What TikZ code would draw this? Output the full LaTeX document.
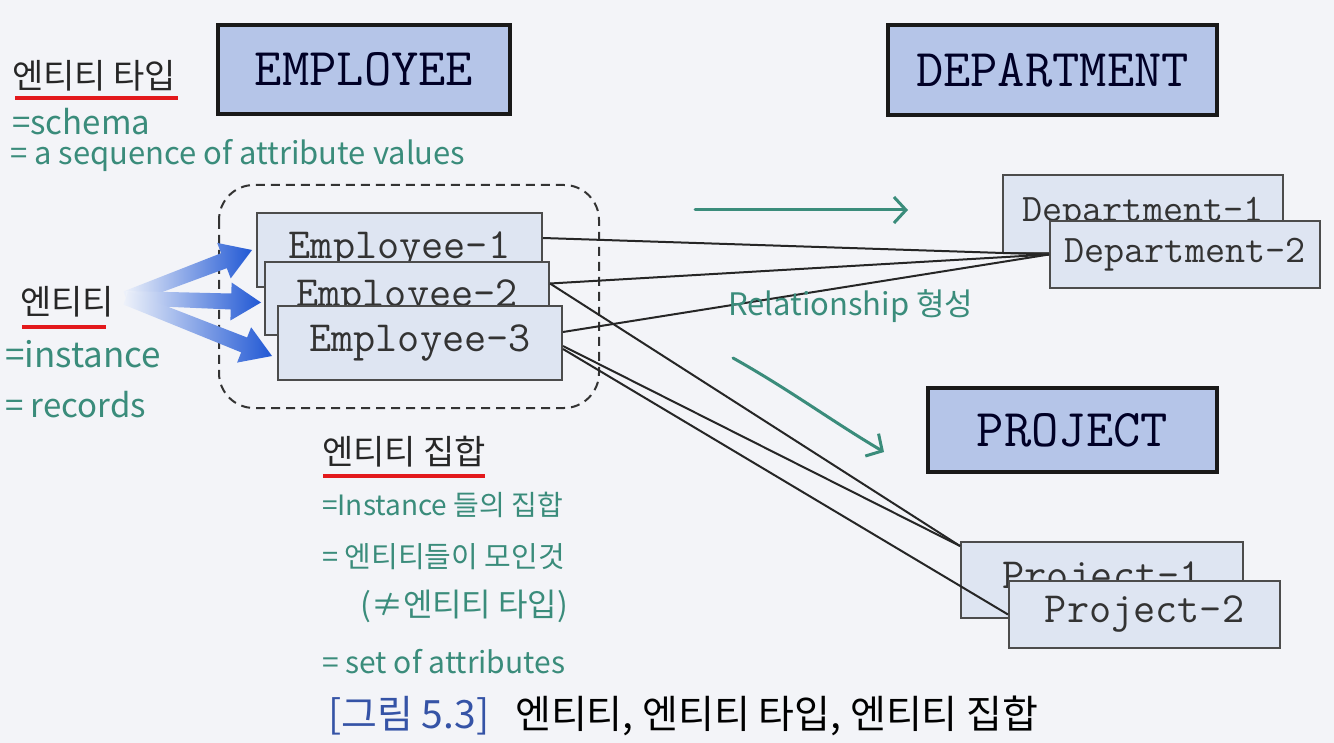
\documentclass[tikz,border=0pt]{standalone}
\usepackage{fontspec}
\newfontfamily\kr{Noto Sans CJK KR}
\usetikzlibrary{calc,arrows.meta}
\definecolor{bg}{HTML}{F3F4F8}
\definecolor{typefill}{HTML}{B5C5E8}
\definecolor{entfill}{HTML}{DEE5F2}
\definecolor{handc}{HTML}{3A8C7B}
\definecolor{ulinec}{HTML}{E3191C}
\definecolor{capblue}{HTML}{3553A6}
\definecolor{arrhead}{HTML}{2158D4}
\definecolor{arrtail}{HTML}{EEF2FA}
\newcommand\fatarrow[2]{%
  \coordinate (fab) at ($(#2)!30pt!(#1)$);
  \shade[left color=arrtail, right color=arrhead]
    ($(#1)!7pt!90:(#2)$) -- ($(fab)!8pt!-90:(#1)$) -- ($(fab)!19pt!-90:(#1)$) -- (#2)
    -- ($(fab)!19pt!90:(#1)$) -- ($(fab)!8pt!90:(#1)$) -- ($(#1)!7pt!-90:(#2)$) -- cycle;
}
\begin{document}
\begin{tikzpicture}[x=1pt,y=-1pt,
  typebox/.style={draw=black!90, line width=3.5pt, fill=typefill, inner sep=0pt,
    font=\fontsize{53}{60}\ttfamily, text=black!85!blue},
  entbox/.style={draw=black!70, line width=2pt, fill=entfill, inner sep=0pt,
    font=\fontsize{43}{50}\ttfamily, text=black!80},
  deptbox/.style={entbox, font=\fontsize{39}{46}\ttfamily},
  conn/.style={draw=black!85, line width=2pt},
  hand/.style={text=handc, anchor=west, inner sep=0pt},
  klabel/.style={anchor=west, inner sep=0pt, font=\kr\fontsize{34}{40}\selectfont, text=black!85},
  uline/.style={draw=ulinec, line width=4pt},
  garrow/.style={draw=handc, line width=3pt, line cap=round, -{Straight Barb[length=12pt,width=26pt]}},
]
\useasboundingbox (0,0) rectangle (1334,743);
\fill[bg] (0,0) rectangle (1334,743);

% entity set frame
\draw[black!80, line width=2pt, dash pattern=on 9pt off 6pt, rounded corners=35pt]
  (219,185) rectangle (599,408);

% entity types
\node[typebox, minimum width=292pt, minimum height=89pt] (EMP) at (364,69.5) {EMPLOYEE};
\node[typebox, minimum width=329pt, minimum height=90pt] (DEPT) at (1052.5,70) {DEPARTMENT};
\node[typebox, minimum width=289pt, minimum height=84pt] (PROJ) at (1072.5,430) {PROJECT};

% entities
\node[entbox, minimum width=285pt, minimum height=74pt] (e1) at (399.5,250) {Employee-1};
\node[entbox, minimum width=284pt, minimum height=73pt] (e2) at (407,298.5) {Employee-2};
\node[entbox, minimum width=284pt, minimum height=74pt] (e3) at (420,343) {Employee-3};
\node[deptbox, minimum width=280pt, minimum height=78pt] (d1) at (1143,214) {Department-1};
\node[deptbox, minimum width=270pt, minimum height=67pt] (d2) at (1185,254.5) {Department-2};
\node[entbox, minimum width=282pt, minimum height=76pt] (p1) at (1102,580) {Project-1};
\node[entbox, minimum width=271pt, minimum height=67pt] (p2) at (1144.5,614.5) {Project-2};

% relationships
\draw[conn] ([yshift=12pt]e1.east) -- (d2.west);
\draw[conn] ([yshift=15pt]e2.east) -- (d2.west);
\draw[conn] ([yshift=11pt]e3.east) -- (d2.west);
\draw[conn] ([yshift=15pt]e2.east) -- ([yshift=-5pt]p1.north west);
\draw[conn] ([yshift=-3pt]e3.east) -- ([yshift=-5pt]p1.north west);
\draw[conn] ([yshift=-6pt]e3.east) -- (p2.west);

% labels
\node[klabel] (lt) at (12,76) {엔티티 타입};
\draw[uline] (15,98) -- (178,98);
\node[klabel] (le) at (20,302) {엔티티};
\draw[uline] (22,327) -- (106,327);
\node[klabel] (ls) at (322,452) {엔티티 집합};
\draw[uline] (323,476) -- (485,476);

% fat blue arrows
\coordinate (src) at (126,298);
\fatarrow{src}{[xshift=-4pt]e1.west}
\fatarrow{src}{[xshift=-3pt,yshift=-4pt]e2.west}
\fatarrow{src}{[xshift=-5pt,yshift=-13pt]e3.west}

% handwritten notes
\node[hand, font=\kr\fontsize{33}{36}\selectfont] (h1) at (12,122) {=schema};
\node[hand, font=\kr\fontsize{31}{34}\selectfont] (h2) at (10,156) {= a sequence of attribute values};
\node[hand, font=\kr\fontsize{35}{38}\selectfont] (h3) at (5,354) {=instance};
\node[hand, font=\kr\fontsize{33}{36}\selectfont] (h4) at (5,405) {= records};
\node[hand, font=\kr\fontsize{28}{32}\selectfont] (h5) at (322,505) {=Instance 들의 집합};
\node[hand, font=\kr\fontsize{29}{32}\selectfont] (h6) at (322,557) {= 엔티티들이 모인것};
\node[hand, font=\kr\fontsize{32}{34}\selectfont] (h7) at (360,606) {(≠엔티티 타입)};
\node[hand, font=\kr\fontsize{30}{33}\selectfont] (h8) at (322,662) {= set of attributes};
\node[hand, font=\kr\fontsize{31}{35}\selectfont] (h9) at (728,306) {Relationship 형성};

% green arrows
\coordinate (ga1) at (695,210);
\coordinate (ga2) at (908,210);
\draw[garrow] (ga1) -- (ga2);
\coordinate (gb1) at (733,358);
\coordinate (gb2) at (884,452);
\draw[garrow] (gb1) .. controls (790,390) and (830,420) .. (gb2);

% caption
\node[anchor=west, inner sep=0pt, font=\kr\fontsize{39}{44}\selectfont, text=black] (cap) at (328,716)
  {\textcolor{capblue}{[그림 5.3]}\hspace{26pt}엔티티, 엔티티 타입, 엔티티 집합};
\end{tikzpicture}
\end{document}
